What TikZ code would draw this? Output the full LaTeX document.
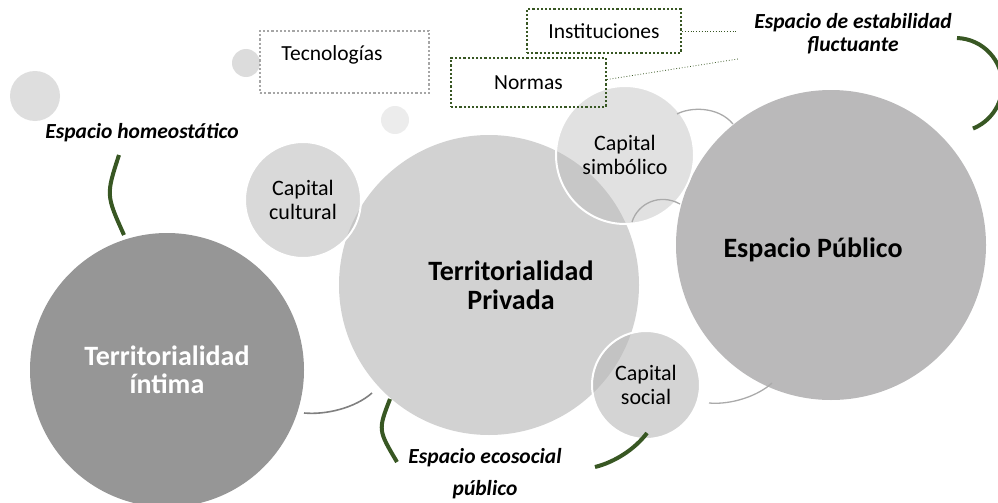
\documentclass[tikz,border=0pt]{standalone}
\usepackage{fontspec}
\setmainfont{Carlito}
\definecolor{cInt}{RGB}{150,150,150}
\definecolor{cPriv}{RGB}{210,210,210}
\definecolor{cPub}{RGB}{186,185,186}
\definecolor{cCap}{RGB}{187,187,187}
\definecolor{cGreen}{RGB}{56,87,35}
\definecolor{cLineA}{RGB}{128,128,128}
\definecolor{cLineB}{RGB}{170,170,170}
\definecolor{cDotG}{RGB}{166,166,166}
\begin{document}
\begin{tikzpicture}[x=1pt,y=-1pt,
  bigcirc/.style={circle,inner sep=0pt,draw=none,align=center},
  capcirc/.style={circle,inner sep=0pt,draw=white,line width=2pt,align=center,fill=cCap,
     font=\fontsize{22}{24}\selectfont},
  dotcirc/.style={circle,inner sep=0pt,draw=none},
  boldlbl/.style={font=\fontsize{28}{29}\selectfont\bfseries,align=center},
  spacelbl/.style={font=\fontsize{21.5}{23}\selectfont\bfseries\itshape,align=center},
  greenarc/.style={draw=cGreen,line width=4pt},
  greyarc/.style={draw=cLineA,line width=1.6pt},
  lightarc/.style={draw=cLineB,line width=1.3pt},
  gbox/.style={draw=cGreen,dotted,line width=2.2pt,inner sep=0pt,font=\fontsize{21.5}{24}\selectfont},
  tbox/.style={draw=cDotG,dotted,line width=2.2pt,inner sep=0pt},
  lead/.style={draw=cGreen,dotted,line width=0.8pt}
]
\useasboundingbox (0,0) rectangle (998,503);
% small decorative circles
\node[dotcirc,fill={rgb,255:red,222;green,222;blue,222},minimum size=50pt] (d1) at (35,96) {};
\node[dotcirc,fill={rgb,255:red,220;green,220;blue,220},minimum size=28pt] (d2) at (246,63) {};
\node[dotcirc,fill={rgb,255:red,236;green,236;blue,236},minimum size=28pt] (d3) at (395,120) {};
% main circles
\node[bigcirc,fill=cInt,minimum size=274pt,text=white,font=\fontsize{28}{28}\selectfont\bfseries] (int) at (167,370) {Territorialidad\\íntima};
\node[bigcirc,fill=cPriv,minimum size=300pt,
  label={[boldlbl,xshift=22pt,yshift=0pt]center:Territorialidad\\Privada}] (priv) at (489,285) {};
\node[bigcirc,fill=cPub,minimum size=310pt,
  label={[boldlbl,xshift=-18pt,yshift=-5pt]center:Espacio Público}] (pub) at (831,245) {};
% capital circles
\node[capcirc,fill opacity=0.56,text opacity=1,minimum size=116pt] (cult) at (303,200) {Capital\\cultural};
\node[capcirc,fill opacity=0.44,text opacity=1,minimum size=138pt] (simb) at (625,155) {Capital\\simbólico};
\node[capcirc,fill opacity=0.63,text opacity=1,minimum size=108pt] (soc) at (646,385) {Capital\\social};
% arcs
\coordinate (a1s) at (119,155); \coordinate (a1e) at (124,235);
\draw[greenarc] (a1s) .. controls (106,195) .. (a1e);
\coordinate (a2s) at (390,399); \coordinate (a2e) at (397,462);
\draw[greenarc] (a2s) .. controls (378,430) .. (a2e);
\coordinate (a3s) at (647,433); \coordinate (a3e) at (595,467);
\draw[greenarc] (a3s) .. controls (635,449) and (615,462) .. (a3e);
\coordinate (a4s) at (957,38);
\draw[greenarc] (a4s) arc[start angle=-88, end angle=68, radius=47];
\coordinate (g1s) at (304,413); \coordinate (g1e) at (372,393);
\draw[greyarc] (g1s) .. controls (326,415) and (355,408) .. (g1e);
\coordinate (g2s) at (709,403); \coordinate (g2e) at (772,383);
\draw[lightarc] (g2s) .. controls (731,405) and (758,396) .. (g2e);
\coordinate (g3s) at (677,114); \coordinate (g3e) at (733,124);
\draw[lightarc] (g3s) .. controls (690,107) and (718,106) .. (g3e);
\coordinate (g4s) at (632,222); \coordinate (g4e) at (680,204);
\draw[lightarc] (g4s) .. controls (638,203) and (660,193) .. (g4e);
% boxes
\node[tbox,minimum width=169pt,minimum height=62pt] (tecbox) at (344.5,62) {};
\node[font=\fontsize{21.5}{24}\selectfont] (tec) at (332,55) {Tecnologías};
\node[gbox,minimum width=154pt,minimum height=44pt] (inst) at (604,31) {Instituciones};
\node[gbox,minimum width=155pt,minimum height=49pt] (norm) at (528.5,82.5) {Normas};
\coordinate (l1) at (738,31);
\coordinate (l2) at (738,59);
\draw[lead] (inst.east) -- (l1);
\draw[lead] (norm.east) ++(0,-3) -- (l2);
% space labels
\node[spacelbl] (est) at (853,34) {Espacio de estabilidad\\fluctuante};
\node[spacelbl] (homeo) at (142,133) {Espacio homeostático};
\node[spacelbl,font=\fontsize{21.5}{32}\selectfont\bfseries\itshape] (eco) at (485,474) {Espacio ecosocial\\público};
\end{tikzpicture}
\end{document}
